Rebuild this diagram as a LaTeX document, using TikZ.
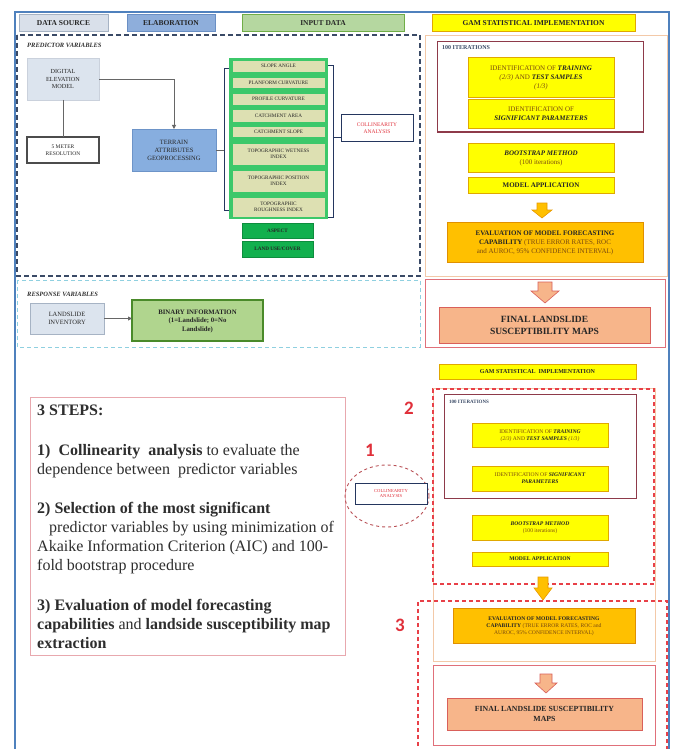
\documentclass[tikz,border=0pt]{standalone}
\usepackage{fontspec}
\setmainfont{Liberation Serif}
\newfontfamily\numfont{Carlito}
\usetikzlibrary{arrows.meta,shapes.geometric}
\definecolor{frameblue}{HTML}{4F81BD}
\definecolor{dsfill}{HTML}{D9E0EA}
\definecolor{dsedge}{HTML}{A6B3C4}
\definecolor{elfill}{HTML}{8EAEDB}
\definecolor{eledge}{HTML}{6A8FC4}
\definecolor{infill}{HTML}{B5D7A0}
\definecolor{inedge}{HTML}{70AD47}
\definecolor{yfill}{HTML}{FFFF00}
\definecolor{yedge}{HTML}{E0A800}
\definecolor{gfill}{HTML}{FFC000}
\definecolor{gedge}{HTML}{E09000}
\definecolor{navy}{HTML}{3A4A66}
\definecolor{lcyan}{HTML}{8FD0E0}
\definecolor{lorange}{HTML}{F3C9A8}
\definecolor{maroon}{HTML}{8E3A4A}
\definecolor{pinkedge}{HTML}{E0707A}
\definecolor{salmon}{HTML}{F7B58A}
\definecolor{salmonedge}{HTML}{D9605A}
\definecolor{demfill}{HTML}{DCE4EE}
\definecolor{terrfill}{HTML}{87AEDF}
\definecolor{terredge}{HTML}{6D94C8}
\definecolor{stackgreen}{HTML}{3CC86A}
\definecolor{itemfill}{HTML}{DDE0B2}
\definecolor{brightgreen}{HTML}{12B04E}
\definecolor{binfill}{HTML}{B0D58E}
\definecolor{binedge}{HTML}{4A8A2A}
\definecolor{collred}{HTML}{E0303A}
\definecolor{collblue}{HTML}{24365E}
\definecolor{stepedge}{HTML}{E8A8AE}
\definecolor{numred}{HTML}{E0303A}
\definecolor{dashred}{HTML}{E84048}
\definecolor{txtbrown}{HTML}{7A4A10}
\definecolor{arrowor}{HTML}{FFC000}
\definecolor{arrowedge}{HTML}{E89A00}
\newcommand\dnarrow[7]{\draw[#1] ({#2-#6},#3) -- ({#2+#6},#3) -- ({#2+#6},#4) -- ({#2+#7},#4) -- (#2,#5) -- ({#2-#7},#4) -- ({#2-#6},#4) -- cycle;}
\tikzset{
  rect/.style n args={4}{minimum width={(#3-#1)*1pt}, minimum height={(#4-#2)*1pt}, at={({(#1+#3)/2},{(#2+#4)/2})}},
  bx/.style={inner sep=0pt, outer sep=0pt, align=center, text depth=0pt, text=black!85},
  hdr/.style={bx, line width=0.9pt, text height=5.2pt, font=\fontsize{7.5}{9}\selectfont\bfseries},
  ybox/.style={bx, draw=yedge, fill=yfill, line width=0.8pt},
  gbox/.style={bx, draw=gedge, fill=gfill, line width=0.8pt},
  item/.style={bx, draw=stackgreen, fill=itemfill, line width=0.6pt, font=\fontsize{5.2}{6}\selectfont},
  oneline/.style={text height=#1},
  gitem/.style={bx, draw=brightgreen!80!black, fill=brightgreen, line width=0.6pt, text height=3.6pt, font=\fontsize{5.2}{6}\selectfont\bfseries},
  collbox/.style={bx, draw=collblue, fill=white, line width=1pt, text=collred},
  conn/.style={draw=black!60, line width=0.9pt},
  secttl/.style={anchor=west, inner sep=0pt, text=black!80, font=\fontsize{6.5}{8}\selectfont\bfseries\itshape},
  num/.style={inner sep=0pt, text=numred, font=\numfont\bfseries\fontsize{19}{19}\selectfont}
}
\begin{document}
\begin{tikzpicture}[x=1pt,y=-1pt]
\useasboundingbox[fill=white] (0,0) rectangle (672,749);

% ---------- region frames
\draw[navy, dashed, line width=1.2pt, dash pattern=on 5pt off 3pt] (17,35) rectangle (420,276);
\draw[lcyan, dashed, line width=0.9pt, dash pattern=on 4pt off 3pt] (17,280) rectangle (420,347);
\node[bx, draw=lorange, line width=0.8pt, rect={425}{35}{667}{276}] (orb1) {};
\node[bx, draw=pinkedge, line width=1pt, rect={425}{279}{665}{347}] (pk1) {};
\node[bx, draw=maroon, line width=1pt, rect={437}{42}{643}{132}] (it1) {};

% ---------- header
\node[hdr, draw=dsedge, fill=dsfill, rect={19}{14}{108}{31}] (hds) {DATA SOURCE};
\node[hdr, draw=eledge, fill=elfill, rect={127}{14}{215}{31}] (hel) {ELABORATION};
\node[hdr, draw=inedge, fill=infill, rect={242}{14}{404}{31}] (hin) {INPUT DATA};
\node[hdr, draw=yedge, fill=yfill, rect={432}{14}{635}{31}] (hgam) {GAM STATISTICAL IMPLEMENTATION};

% ---------- predictor variables
\node[secttl] (pv) at (27,45) {PREDICTOR VARIABLES};
\node[bx, draw=dsedge!60, fill=demfill, rect={27}{58}{99}{100}, font=\fontsize{6.2}{7.8}\selectfont] (dem) {DIGITAL\\ ELEVATION\\ MODEL};
\node[bx, draw=black!70, line width=1.6pt, fill=white, rect={27}{137}{99}{163}, font=\fontsize{5.5}{7}\selectfont] (fivem) {5 METER\\ RESOLUTION};
\node[bx, draw=terredge, fill=terrfill, rect={132}{129}{216}{171}, font=\fontsize{6.5}{8}\selectfont] (ter) {TERRAIN\\ ATTRIBUTES\\ GEOPROCESSING};
\draw[conn] (dem.south) -- (fivem.north);
\draw[conn, -{Triangle[length=4pt,width=4pt]}] (dem.east) -| (ter.north);

\node[bx, fill=stackgreen, rect={229}{58}{328}{219}] (stk) {};
\node[item, oneline=3.6pt, rect={232}{60}{325}{72}] (slope) {SLOPE ANGLE};
\node[item, oneline=3.6pt, rect={232}{77}{325}{88}] (plan) {PLANFORM CURVATURE};
\node[item, oneline=3.6pt, rect={232}{93}{325}{105}] (prof) {PROFILE CURVATURE};
\node[item, oneline=3.6pt, rect={232}{109}{325}{122}] (carea) {CATCHMENT AREA};
\node[item, oneline=3.6pt, rect={232}{126}{325}{137}] (cslope) {CATCHMENT SLOPE};
\node[item, rect={232}{143}{325}{165}] (twi) {TOPOGRAPHIC WETNESS\\ INDEX};
\node[item, rect={232}{170}{325}{192}] (tpi) {TOPOGRAPHIC POSITION\\ INDEX};
\node[item, rect={232}{197}{325}{217}] (tri) {TOPOGRAPHIC\\ ROUGHNESS INDEX};
\node[gitem, rect={242}{223}{313}{238}] (asp) {ASPECT};
\node[gitem, rect={242}{241}{313}{257}] (luc) {LAND USE/COVER};

\draw[collblue, line width=0.8pt] (229,68) -- (224,68) -- (224,210) -- (229,210);
\draw[collblue, line width=0.8pt] (328,65) -- (333,65) -- (333,217) -- (328,217);
\coordinate (lb) at (224,150);
\coordinate (rb) at (333,137);
\draw[conn] (ter.east) -- (lb);
\node[collbox, rect={341}{115}{413}{141}, font=\fontsize{5.5}{7}\selectfont] (col1) {COLLINEARITY\\ ANALYSIS};
\draw[collblue, line width=0.8pt] (rb) -- (rb -| col1.west);

% ---------- response variables
\node[secttl] (rv) at (27,294) {RESPONSE VARIABLES};
\node[bx, draw=dsedge, fill=demfill, rect={30}{303}{104}{334}, font=\fontsize{6.5}{8}\selectfont] (lsi) {LANDSLIDE\\ INVENTORY};
\node[bx, draw=binedge, fill=binfill, line width=1.2pt, rect={132}{300}{263}{341}, font=\fontsize{6.8}{8.5}\selectfont\bfseries] (bin) {BINARY INFORMATION\\ (1=Landslide; 0=No\\ Landslide)};
\draw[conn, -{Triangle[length=4pt,width=4pt]}] (lsi.east) -- (lsi.east -| bin.west);

% ---------- top right GAM
\node[anchor=west, inner sep=0pt, text=navy, font=\fontsize{6}{7}\selectfont\bfseries] (itl1) at (442,48) {100 ITERATIONS};
\node[ybox, rect={468}{57}{614}{97}, font=\fontsize{7}{8.8}\selectfont] (tr1) {{\color{txtbrown}IDENTIFICATION OF} \textbf{\textit{TRAINING}}\\ {\color{txtbrown}\textit{(2/3)} AND} \textbf{\textit{TEST SAMPLES}}\\ {\color{txtbrown}\textit{(1/3)}}};
\node[ybox, rect={468}{99}{614}{128}, font=\fontsize{7}{9}\selectfont] (sg1) {{\color{txtbrown}IDENTIFICATION OF}\\ \textbf{\textit{SIGNIFICANT PARAMETERS}}};
\node[ybox, rect={468}{143}{614}{172}, font=\fontsize{7}{9}\selectfont] (bs1) {\textbf{\textit{BOOTSTRAP METHOD}}\\ {\color{txtbrown}(100 iterations)}};
\node[ybox, oneline=4.8pt, rect={468}{177}{614}{193}, font=\fontsize{7}{9}\selectfont\bfseries] (ma1) {MODEL APPLICATION};
\dnarrow{fill=arrowor, draw=arrowedge, line width=0.6pt}{542}{203}{210}{218}{5}{10}
\node[gbox, rect={447}{222}{643}{262}, font=\fontsize{7}{8.8}\selectfont] (ev1) {\textbf{EVALUATION OF MODEL FORECASTING}\\ \textbf{CAPABILITY} {\color{txtbrown}(TRUE ERROR RATES, ROC}\\ {\color{txtbrown}and AUROC, 95\% CONFIDENCE INTERVAL)}};
\dnarrow{fill=salmon, draw=salmonedge, line width=0.6pt}{545}{282}{291}{303}{7}{14}
\node[bx, draw=salmonedge, fill=salmon, line width=1pt, rect={439}{307}{650}{343}, font=\fontsize{9.5}{12}\selectfont\bfseries] (fm1) {FINAL LANDSLIDE\\ SUSCEPTIBILITY MAPS};

% ---------- lower part
\node[ybox, oneline=4.1pt, rect={439}{364}{636}{379}, font=\fontsize{6}{7}\selectfont\bfseries] (hgam2) {GAM STATISTICAL\ \ IMPLEMENTATION};

\node[bx, draw=stepedge, line width=1pt, rect={30}{397}{345}{655}] (steps) {};
\node[anchor=north west, align=left, inner sep=0pt, text=black!82, font=\fontsize{16}{19}\selectfont] (stxt) at (37,405) {%
{\bfseries 3 STEPS:}\\[21pt]
{\bfseries 1)\ \ Collinearity\ \ analysis} to evaluate the\\
dependence between\ \ predictor variables\\[20pt]
{\bfseries 2) Selection of the most significant}\\
\hspace*{12pt}predictor variables by using minimization of\\
Akaike Information Criterion (AIC) and 100-\\
fold bootstrap procedure\\[21pt]
{\bfseries 3) Evaluation of model forecasting}\\
{\bfseries capabilities} and {\bfseries landside susceptibility map}\\
{\bfseries extraction}};

\node[num] (n1) at (370,450) {1};
\node[num] (n2) at (409,408) {2};
\node[num] (n3) at (400,625) {3};

\node[draw=collred!60!gray, dashed, line width=0.9pt, ellipse, minimum width=84pt, minimum height=62pt, inner sep=0pt] (ell) at (387,496) {};
\node[collbox, rect={355}{483}{427}{504}, font=\fontsize{4.6}{5.8}\selectfont] (col2) {COLLINEARITY\\ ANALYSIS};

\node[bx, draw=lorange, line width=0.8pt, rect={433}{388}{655}{661}] (orb2) {};
\node[bx, draw=maroon, line width=1pt, rect={444}{394}{636}{498}] (it2) {};
\node[bx, draw=dashred, dashed, line width=1.3pt, dash pattern=on 4pt off 3pt, rect={433}{389}{654}{584}] (box2) {};
\draw[dashred, dashed, line width=1.3pt, dash pattern=on 4pt off 3pt] (418,760) -- (418,601) -- (667,601) -- (667,760);

\node[anchor=west, inner sep=0pt, text=navy, font=\fontsize{5}{6}\selectfont\bfseries] (itl2) at (449,402) {100 ITERATIONS};
\node[ybox, rect={472}{423}{608}{447}, font=\fontsize{5.6}{7.2}\selectfont] (tr2) {{\color{txtbrown}IDENTIFICATION OF} \textbf{\textit{TRAINING}}\\ {\color{txtbrown}\textit{(2/3)} AND} \textbf{\textit{TEST SAMPLES}} {\color{txtbrown}\textit{(1/3)}}};
\node[ybox, rect={472}{466}{608}{491}, font=\fontsize{5.6}{7.2}\selectfont] (sg2) {{\color{txtbrown}IDENTIFICATION OF} \textbf{\textit{SIGNIFICANT}}\\ \textbf{\textit{PARAMETERS}}};
\node[ybox, rect={472}{515}{608}{540}, font=\fontsize{5.6}{7.2}\selectfont] (bs2) {\textbf{\textit{BOOTSTRAP METHOD}}\\ {\color{txtbrown}(100 iterations)}};
\node[ybox, oneline=3.8pt, rect={472}{552}{608}{566}, font=\fontsize{5.6}{7}\selectfont\bfseries] (ma2) {MODEL APPLICATION};
\dnarrow{fill=arrowor, draw=arrowedge, line width=0.6pt}{543}{577}{588}{600}{5}{9}
\node[gbox, rect={453}{608}{635}{643}, font=\fontsize{5.6}{7.2}\selectfont] (ev2) {\textbf{EVALUATION OF MODEL FORECASTING}\\ \textbf{CAPABILITY} {\color{txtbrown}(TRUE ERROR RATES, ROC and}\\ {\color{txtbrown}AUROC, 95\% CONFIDENCE INTERVAL)}};
\node[bx, draw=pinkedge, line width=1pt, rect={433}{665}{655}{745}] (pk2) {};
\dnarrow{fill=salmon, draw=salmonedge, line width=0.6pt}{546}{674}{683}{693}{6}{11}
\node[bx, draw=salmonedge, fill=salmon, line width=1pt, rect={447}{698}{642}{730}, font=\fontsize{7.8}{10}\selectfont\bfseries] (fm2) {FINAL LANDSLIDE SUSCEPTIBILITY\\ MAPS};

% ---------- outer blue frame
\draw[frameblue, line width=2.5pt] (15,760) -- (15,12) -- (669,12) -- (669,760);
\end{tikzpicture}
\end{document}
